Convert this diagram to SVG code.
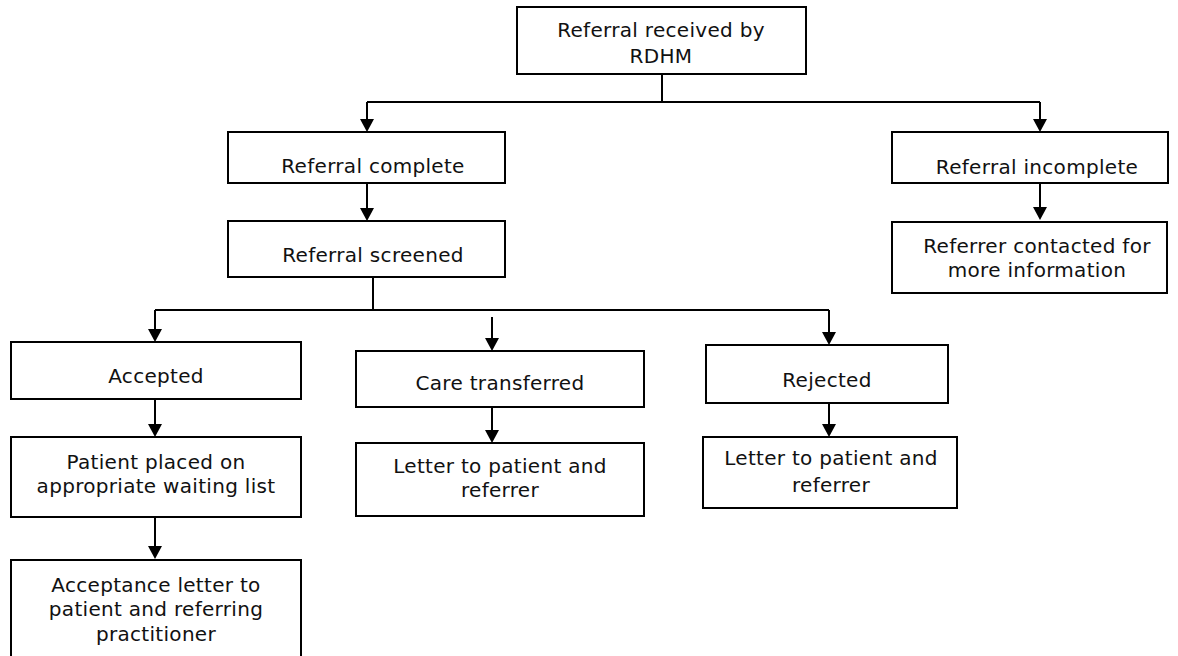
<svg xmlns="http://www.w3.org/2000/svg" width="1178" height="656" viewBox="0 0 1178 656">
<style>
.box{fill:#fff;stroke:#000;stroke-width:2}
.t{font-family:"DejaVu Sans",Verdana,sans-serif;font-size:20px;letter-spacing:0.3px;fill:#111;text-anchor:middle}
.c{fill:none;stroke:#000;stroke-width:2}
.ah{fill:#000}
</style>
<rect width="1178" height="656" fill="#fff"/>
<g id="connectors">
<path class="c" d="M662,74 V102"/>
<path class="c" d="M367,102 H1040"/>
<path class="c" d="M367,102 V122"/>
<path class="c" d="M1040,102 V122"/>
<path class="c" d="M367,183 V210"/>
<path class="c" d="M1040,183 V209"/>
<path class="c" d="M373,277 V310"/>
<path class="c" d="M155,310 H829"/>
<path class="c" d="M155,310 V332"/>
<path class="c" d="M492,317 V341"/>
<path class="c" d="M829,310 V335"/>
<path class="c" d="M155,399 V427"/>
<path class="c" d="M155,517 V549"/>
<path class="c" d="M492,407 V433"/>
<path class="c" d="M829,403 V427"/>
<path class="ah" d="M360,119 L374,119 L367,132 Z"/>
<path class="ah" d="M1033,119 L1047,119 L1040,132 Z"/>
<path class="ah" d="M360,208 L374,208 L367,221 Z"/>
<path class="ah" d="M1033,207 L1047,207 L1040,220 Z"/>
<path class="ah" d="M148,329 L162,329 L155,342 Z"/>
<path class="ah" d="M485,338 L499,338 L492,351 Z"/>
<path class="ah" d="M822,332 L836,332 L829,345 Z"/>
<path class="ah" d="M148,424 L162,424 L155,437 Z"/>
<path class="ah" d="M148,546 L162,546 L155,559 Z"/>
<path class="ah" d="M485,430 L499,430 L492,443 Z"/>
<path class="ah" d="M822,424 L836,424 L829,437 Z"/>
</g>
<g id="n-received">
<rect class="box" x="517" y="7" width="289" height="67"/>
<text class="t" x="661" y="37">Referral received by</text>
<text class="t" x="661" y="63">RDHM</text>
</g>
<g id="n-complete">
<rect class="box" x="228" y="132" width="277" height="51"/>
<text class="t" x="373" y="173">Referral complete</text>
</g>
<g id="n-incomplete">
<rect class="box" x="892" y="132" width="276" height="51"/>
<text class="t" x="1037" y="174">Referral incomplete</text>
</g>
<g id="n-contacted">
<rect class="box" x="892" y="222" width="275" height="71"/>
<text class="t" x="1037" y="253">Referrer contacted for</text>
<text class="t" x="1037" y="277">more information</text>
</g>
<g id="n-screened">
<rect class="box" x="228" y="221" width="277" height="56"/>
<text class="t" x="373" y="262">Referral screened</text>
</g>
<g id="n-accepted">
<rect class="box" x="11" y="342" width="290" height="57"/>
<text class="t" x="156" y="383">Accepted</text>
</g>
<g id="n-waiting">
<rect class="box" x="11" y="437" width="290" height="80"/>
<text class="t" x="156" y="469">Patient placed on</text>
<text class="t" x="156" y="493">appropriate waiting list</text>
</g>
<g id="n-acceptance-letter">
<rect class="box" x="11" y="560" width="290" height="110"/>
<text class="t" x="156" y="592">Acceptance letter to</text>
<text class="t" x="156" y="616">patient and referring</text>
<text class="t" x="156" y="641">practitioner</text>
</g>
<g id="n-transferred">
<rect class="box" x="356" y="351" width="288" height="56"/>
<text class="t" x="500" y="390">Care transferred</text>
</g>
<g id="n-letter-transferred">
<rect class="box" x="356" y="443" width="288" height="73"/>
<text class="t" x="500" y="473">Letter to patient and</text>
<text class="t" x="500" y="497">referrer</text>
</g>
<g id="n-rejected">
<rect class="box" x="706" y="345" width="242" height="58"/>
<text class="t" x="827" y="387">Rejected</text>
</g>
<g id="n-letter-rejected">
<rect class="box" x="703" y="437" width="254" height="71"/>
<text class="t" x="831" y="465">Letter to patient and</text>
<text class="t" x="831" y="492">referrer</text>
</g>
</svg>
